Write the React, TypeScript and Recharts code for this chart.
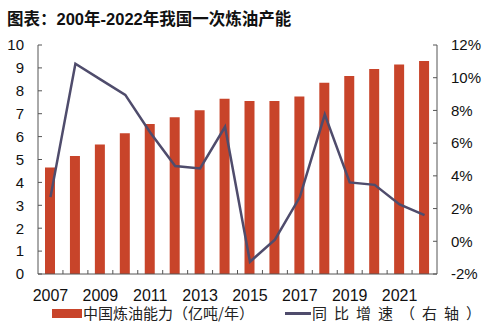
import { Bar, ComposedChart, Legend, Line, XAxis, YAxis } from 'recharts';

const years = ['2007', '2008', '2009', '2010', '2011', '2012', '2013', '2014', '2015', '2016', '2017', '2018', '2019', '2020', '2021', '2022'];
const capacity = [4.65, 5.15, 5.65, 6.15, 6.55, 6.85, 7.15, 7.65, 7.55, 7.55, 7.75, 8.35, 8.65, 8.95, 9.15, 9.3];
const growth = [2.7, 10.85, 9.9, 8.95, 6.65, 4.6, 4.45, 7.0, -1.25, 0.1, 2.7, 7.75, 3.6, 3.45, 2.25, 1.6];
const leftTicks = [0, 1, 2, 3, 4, 5, 6, 7, 8, 9, 10];
const rightTicks = [-2, 0, 2, 4, 6, 8, 10, 12];

const BAR_NAME = '中国炼油能力（亿吨/年）';
const LINE_NAME = '同比增速（右轴）';

const BAR_COLOR = '#c8442a';
const LINE_COLOR = '#4f4c6c';
const AXIS_COLOR = '#555';
const NUM_FONT = '"Liberation Sans", Arial, sans-serif';
const CJK_FONT = '"Noto Sans CJK SC", "Noto Sans", sans-serif';

const PLOT_LEFT = 38;
const PLOT_RIGHT = 437;
const PLOT_BOTTOM = 274;
const STEP = (PLOT_RIGHT - PLOT_LEFT) / years.length;

const data = years.map((year, i) => ({ year, capacity: capacity[i], growth: growth[i] }));

function YearTick(props: any) {
  const { x, payload, index } = props;
  const bx = x + STEP / 2;
  return (
    <g>
      {index < years.length - 1 && (
        <line x1={bx} x2={bx} y1={PLOT_BOTTOM} y2={PLOT_BOTTOM - 4} stroke={AXIS_COLOR} />
      )}
      {index % 2 === 0 && (
        <text x={x} y={PLOT_BOTTOM + 27} textAnchor="middle" fontSize={16} fontFamily={NUM_FONT} fill="#111">
          {payload.value}
        </text>
      )}
    </g>
  );
}

function LegendContent() {
  return (
    <div style={{ position: 'relative', width: 492, height: 16, fontFamily: CJK_FONT, fontSize: 15, color: '#222' }}>
      <div style={{ position: 'absolute', left: 52, top: 4, width: 30, height: 9, background: BAR_COLOR }} />
      <div style={{ position: 'absolute', left: 83, top: 0, lineHeight: '16px', whiteSpace: 'nowrap' }}>{BAR_NAME}</div>
      <div style={{ position: 'absolute', left: 285, top: 7, width: 26, height: 2.5, background: LINE_COLOR }} />
      <div style={{ position: 'absolute', left: 312, top: 0, lineHeight: '16px', whiteSpace: 'nowrap', letterSpacing: 7 }}>
        {LINE_NAME}
      </div>
    </div>
  );
}

export default function App() {
  return (
    <div style={{ position: 'absolute', left: 0, top: 0, width: 492, height: 325, background: '#fff' }}>
      <div
        style={{
          position: 'absolute',
          left: 7,
          top: 7,
          fontFamily: `"Liberation Sans", ${CJK_FONT}`,
          fontWeight: 'bold',
          fontSize: 16.5,
          lineHeight: '24px',
          color: '#111',
          whiteSpace: 'nowrap',
        }}
      >
        图表：200年-2022年我国一次炼油产能
      </div>
      <ComposedChart width={492} height={325} data={data} margin={{ top: 45, right: 0, bottom: 21, left: 0 }}>
        <XAxis
          dataKey="year"
          height={30}
          interval={0}
          stroke={AXIS_COLOR}
          tickLine={false}
          tick={<YearTick />}
        />
        <YAxis
          yAxisId="left"
          width={38}
          domain={[0, 10]}
          ticks={leftTicks}
          interval={0}
          stroke={AXIS_COLOR}
          tickSize={-4}
          tickMargin={18}
          tick={{ fontSize: 15, fontFamily: NUM_FONT, fill: '#111' }}
        />
        <YAxis
          yAxisId="right"
          orientation="right"
          width={55}
          domain={[-2, 12]}
          ticks={rightTicks}
          interval={0}
          stroke={AXIS_COLOR}
          tickSize={-4}
          tickMargin={18}
          tickFormatter={(v) => `${v}%`}
          tick={{ fontSize: 15, fontFamily: NUM_FONT, fill: '#111' }}
        />
        <Bar yAxisId="left" dataKey="capacity" name={BAR_NAME} fill={BAR_COLOR} barSize={10} isAnimationActive={false} />
        <Line
          yAxisId="right"
          type="linear"
          dataKey="growth"
          name={LINE_NAME}
          stroke={LINE_COLOR}
          strokeWidth={2.5}
          dot={false}
          activeDot={false}
          isAnimationActive={false}
        />
        <Legend
          layout="horizontal"
          verticalAlign="middle"
          align="center"
          content={<LegendContent />}
          wrapperStyle={{ position: 'absolute', left: 0, top: 305, width: 492 }}
        />
      </ComposedChart>
    </div>
  );
}
